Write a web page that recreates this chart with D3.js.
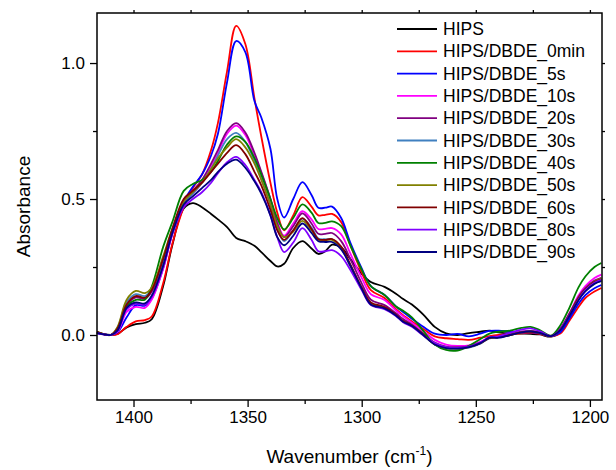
<!DOCTYPE html>
<html>
<head>
<meta charset="utf-8">
<script src="https://cdn.jsdelivr.net/npm/d3@7"></script>
<style>
    body { margin: 0; background: #fff; }
    text { font-family: "Liberation Sans", Arial, sans-serif; fill: #000; }
    .domain { display: none; }
</style>
</head>
<body>
<div id="chart"></div>
<script>
// Wavenumber grid (cm-1)
var wavenumbers = [1416,1413,1410,1407,1403,1399,1395,1392,1387,1383,1378,1374,1370,1366,1363,1359,1355,1351,1347,1344,1340,1337,1334,1330,1326,1322,1319,1316,1313,1309,1305,1300,1296,1290,1285,1282,1278,1273,1268,1263,1258,1253,1248,1244,1240,1235,1230,1226,1222,1217,1213,1209,1205,1202,1198,1195];

var hips = [0.01,0.003,0,0.004,0.028,0.04,0.045,0.058,0.18,0.33,0.465,0.485,0.47,0.445,0.425,0.397,0.357,0.345,0.328,0.305,0.272,0.252,0.262,0.32,0.345,0.318,0.298,0.308,0.332,0.322,0.28,0.225,0.195,0.177,0.152,0.133,0.112,0.075,0.03,0.006,0,0.007,0.012,0.016,0.01,0.006,0.005,0.004,0.002,-0.006,0.012,0.068,0.13,0.165,0.192,0.2];
var dbde0min = [0.008,0.002,0,0.003,0.03,0.05,0.055,0.068,0.19,0.335,0.47,0.54,0.59,0.68,0.78,0.97,1.137,1.07,0.87,0.73,0.56,0.45,0.385,0.44,0.507,0.472,0.44,0.442,0.445,0.415,0.33,0.23,0.165,0.136,0.095,0.074,0.05,0.022,-0.005,-0.012,-0.015,-0.018,-0.01,-0.004,0,0.003,0.006,0.008,0.004,-0.005,0.005,0.052,0.103,0.136,0.16,0.173];
var dbde5s = [0.006,0.002,0,0.01,0.065,0.11,0.108,0.135,0.245,0.375,0.49,0.545,0.59,0.66,0.74,0.93,1.081,1.04,0.86,0.8,0.685,0.5,0.432,0.5,0.562,0.515,0.468,0.468,0.472,0.43,0.34,0.245,0.18,0.147,0.105,0.085,0.06,0.03,0.005,0,0.004,-0.005,0.005,0.015,0.016,0.012,0.009,0.01,0.006,-0.004,0.01,0.06,0.115,0.147,0.172,0.184];
var dbde10s = [0.008,0.002,0,0.012,0.085,0.103,0.1,0.13,0.245,0.37,0.48,0.52,0.56,0.62,0.67,0.74,0.77,0.735,0.66,0.595,0.5,0.415,0.365,0.41,0.455,0.425,0.39,0.39,0.393,0.37,0.3,0.21,0.15,0.129,0.09,0.07,0.045,0.015,-0.018,-0.035,-0.04,-0.038,-0.025,-0.01,-0.006,0.003,0.012,0.015,0.01,-0.004,0.025,0.08,0.145,0.18,0.21,0.222];
var dbde20s = [0.01,0.003,0,0.022,0.108,0.138,0.133,0.16,0.265,0.38,0.49,0.53,0.57,0.63,0.68,0.75,0.779,0.745,0.67,0.6,0.5,0.41,0.36,0.4,0.447,0.41,0.372,0.372,0.375,0.345,0.28,0.19,0.13,0.11,0.08,0.06,0.038,0.005,-0.028,-0.043,-0.045,-0.042,-0.028,-0.011,-0.008,0.002,0.012,0.015,0.01,-0.004,0.022,0.078,0.14,0.172,0.2,0.21];
var dbde30s = [0.01,0.003,0,0.027,0.12,0.15,0.143,0.168,0.27,0.38,0.485,0.52,0.56,0.61,0.66,0.72,0.743,0.71,0.64,0.575,0.48,0.39,0.345,0.385,0.428,0.395,0.355,0.352,0.352,0.32,0.255,0.17,0.115,0.1,0.072,0.05,0.033,0,-0.035,-0.048,-0.05,-0.046,-0.032,-0.012,-0.01,0,0.01,0.013,0.008,-0.004,0.018,0.072,0.132,0.163,0.19,0.2];
var dbde40s = [0.012,0.003,0,0.02,0.105,0.129,0.13,0.178,0.324,0.415,0.53,0.555,0.57,0.6,0.64,0.7,0.73,0.71,0.65,0.59,0.5,0.43,0.388,0.43,0.48,0.45,0.412,0.412,0.418,0.4,0.33,0.24,0.18,0.147,0.105,0.09,0.065,0.015,-0.035,-0.055,-0.057,-0.04,-0.015,0.005,0.012,0.016,0.026,0.03,0.018,-0.002,0.035,0.1,0.175,0.215,0.25,0.265];
var dbde50s = [0.012,0.003,0,0.03,0.13,0.162,0.154,0.175,0.29,0.39,0.49,0.525,0.56,0.61,0.65,0.69,0.72,0.69,0.63,0.57,0.48,0.4,0.36,0.38,0.42,0.385,0.35,0.348,0.35,0.32,0.255,0.17,0.115,0.1,0.073,0.05,0.033,0,-0.035,-0.048,-0.05,-0.045,-0.03,-0.011,-0.008,0,0.01,0.012,0.008,-0.004,0.02,0.075,0.135,0.168,0.196,0.207];
var dbde60s = [0.012,0.003,0,0.024,0.112,0.143,0.137,0.165,0.28,0.39,0.5,0.53,0.56,0.6,0.63,0.67,0.698,0.665,0.6,0.55,0.46,0.385,0.35,0.385,0.43,0.39,0.352,0.35,0.353,0.325,0.26,0.175,0.12,0.103,0.075,0.052,0.035,0.002,-0.033,-0.046,-0.048,-0.044,-0.03,-0.011,-0.008,0,0.01,0.012,0.008,-0.004,0.02,0.075,0.135,0.168,0.195,0.205];
var dbde80s = [0.008,0.002,0,0.015,0.095,0.115,0.112,0.14,0.25,0.37,0.47,0.5,0.525,0.56,0.595,0.635,0.655,0.625,0.57,0.525,0.44,0.36,0.305,0.34,0.393,0.35,0.308,0.308,0.312,0.29,0.24,0.165,0.11,0.095,0.07,0.048,0.03,-0.002,-0.03,-0.045,-0.047,-0.043,-0.028,-0.008,-0.005,0.008,0.02,0.024,0.014,-0.004,0.02,0.072,0.13,0.165,0.192,0.203];
var dbde90s = [0.008,0.002,0,0.017,0.1,0.12,0.116,0.145,0.255,0.375,0.48,0.51,0.54,0.57,0.6,0.63,0.645,0.615,0.565,0.52,0.44,0.36,0.33,0.365,0.41,0.375,0.345,0.342,0.342,0.315,0.255,0.17,0.112,0.098,0.072,0.05,0.033,0,-0.035,-0.048,-0.05,-0.045,-0.03,-0.01,-0.01,0,0.01,0.013,0.008,-0.004,0.018,0.07,0.128,0.16,0.188,0.198];

var seriesNames = ["HIPS","HIPS/DBDE_0min","HIPS/DBDE_5s","HIPS/DBDE_10s","HIPS/DBDE_20s","HIPS/DBDE_30s","HIPS/DBDE_40s","HIPS/DBDE_50s","HIPS/DBDE_60s","HIPS/DBDE_80s","HIPS/DBDE_90s"];
var seriesColors = ["#000000","#ff0000","#0000ff","#ff00ff","#800080","#4080c0","#008000","#808000","#800000","#8000ff","#000080"];
var seriesValues = [hips, dbde0min, dbde5s, dbde10s, dbde20s, dbde30s, dbde40s, dbde50s, dbde60s, dbde80s, dbde90s];

var xMajor = [1400, 1350, 1300, 1250, 1200];
var xMinor = [1375, 1325, 1275, 1225];
var yMajor = [0, 0.5, 1.0];
var yMinor = [0.25, 0.75];

var svgWidth = 616;
var svgHeight = 470;
var margin = { top: 13, right: 14, bottom: 70, left: 97 };
var width = svgWidth - margin.left - margin.right;
var height = svgHeight - margin.top - margin.bottom;

var svg = d3.select("#chart")
    .append("svg")
    .attr("width", svgWidth)
    .attr("height", svgHeight);

var chartGroup = svg.append("g")
    .attr("transform", `translate(${margin.left}, ${margin.top})`);

var xScale = d3.scaleLinear().domain([1416, 1194.7]).range([0, width]);
var yScale = d3.scaleLinear().domain([-0.239, 1.184]).range([height, 0]);

// axes: labelled bottom/left, ticks only on top/right
function addAxis(axis, transform) {
    var g = chartGroup.append("g").attr("transform", transform).call(axis);
    g.selectAll("line").attr("stroke", "#000").attr("stroke-width", 1.3);
    return g;
}
var bottom = addAxis(d3.axisBottom(xScale).tickValues(xMajor).tickSize(7).tickPadding(4).tickFormat(d3.format("d")), `translate(0, ${height})`);
addAxis(d3.axisBottom(xScale).tickValues(xMinor).tickSize(4).tickFormat(""), `translate(0, ${height})`);
var left = addAxis(d3.axisLeft(yScale).tickValues(yMajor).tickSize(7).tickPadding(5).tickFormat(d3.format(".1f")), "translate(0,0)");
addAxis(d3.axisLeft(yScale).tickValues(yMinor).tickSize(4).tickFormat(""), "translate(0,0)");
addAxis(d3.axisTop(xScale).tickValues(xMajor.concat(xMinor)).tickSize(3).tickFormat(""), "translate(0,0)");
addAxis(d3.axisRight(yScale).tickValues(yMajor.concat(yMinor)).tickSize(3).tickFormat(""), `translate(${width}, 0)`);
bottom.selectAll("text").style("font-size", "17px").attr("fill", "#000");
left.selectAll("text").style("font-size", "17px").attr("fill", "#000");

// curves
var line = d3.line()
    .x((d, i) => xScale(wavenumbers[i]))
    .y(d => yScale(d))
    .curve(d3.curveCatmullRom.alpha(0.5));

chartGroup.append("g")
    .selectAll("path")
    .data(seriesValues)
    .enter()
    .append("path")
    .attr("d", d => line(d))
    .attr("fill", "none")
    .attr("stroke", (d, i) => seriesColors[i])
    .attr("stroke-width", 1.8);

// frame
chartGroup.append("rect")
    .attr("width", width)
    .attr("height", height)
    .attr("fill", "none")
    .attr("stroke", "#000")
    .attr("stroke-width", 1.5);

// legend
var legend = svg.append("g").attr("transform", "translate(397, 29)");
var rows = legend.selectAll("g")
    .data(seriesNames)
    .enter()
    .append("g")
    .attr("transform", (d, i) => `translate(0, ${i * 22.3})`);
rows.append("line")
    .attr("x1", 0).attr("x2", 40)
    .attr("stroke", (d, i) => seriesColors[i])
    .attr("stroke-width", 1.8);
rows.append("text")
    .attr("x", 46)
    .attr("dy", "0.35em")
    .style("font-size", "17.5px")
    .text(d => d);

// axis titles
svg.append("text")
    .attr("transform", `translate(30, ${margin.top + height / 2}) rotate(-90)`)
    .attr("text-anchor", "middle")
    .style("font-size", "19px")
    .text("Absorbance");

var xTitle = svg.append("text")
    .attr("x", margin.left + width / 2)
    .attr("y", 463)
    .attr("text-anchor", "middle")
    .style("font-size", "19px");
xTitle.append("tspan").text("Wavenumber (cm");
xTitle.append("tspan").attr("dy", -8).style("font-size", "12px").text("-1");
xTitle.append("tspan").attr("dy", 8).text(")");
</script>
</body>
</html>
